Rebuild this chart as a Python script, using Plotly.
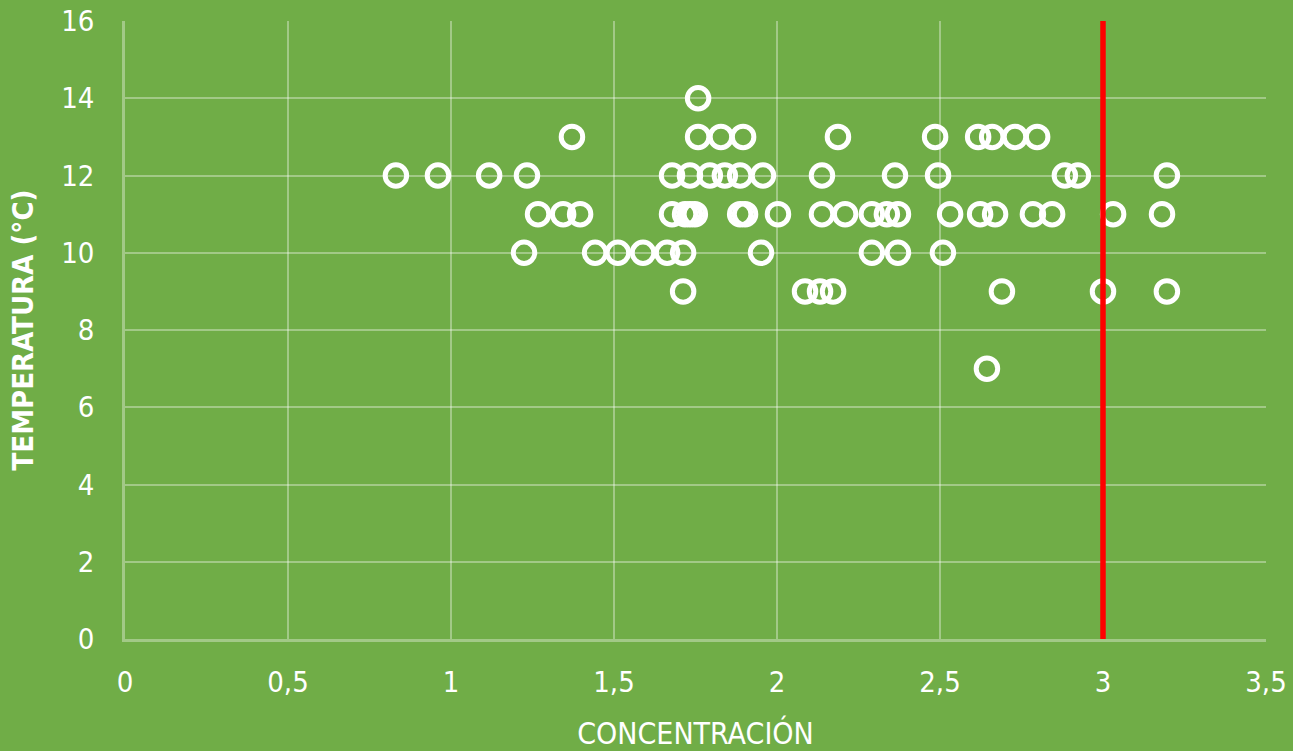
import plotly.graph_objects as go

# Data
concentracion = [
    1.758,
    1.371, 1.758, 1.828, 1.896, 2.187, 2.485, 2.617, 2.660, 2.730, 2.798,
    0.831, 0.960, 1.117, 1.233, 1.678, 1.733, 1.794, 1.840, 1.887, 1.957,
    2.138, 2.362, 2.494, 2.883, 2.923, 3.196,
    1.267, 1.344, 1.396, 1.678, 1.718, 1.733, 1.748, 1.887, 1.902, 2.003,
    2.138, 2.209, 2.291, 2.337, 2.371, 2.531, 2.623, 2.669, 2.785, 2.844,
    3.031, 3.181,
    1.224, 1.442, 1.512, 1.589, 1.663, 1.712, 1.951, 2.291, 2.371, 2.509,
    1.712, 2.086, 2.132, 2.172, 2.690, 3.000, 3.196,
    2.644,
]
temperatura = [
    14,
    13, 13, 13, 13, 13, 13, 13, 13, 13, 13,
    12, 12, 12, 12, 12, 12, 12, 12, 12, 12,
    12, 12, 12, 12, 12, 12,
    11, 11, 11, 11, 11, 11, 11, 11, 11, 11,
    11, 11, 11, 11, 11, 11, 11, 11, 11, 11,
    11, 11,
    10, 10, 10, 10, 10, 10, 10, 10, 10, 10,
    9, 9, 9, 9, 9, 9, 9,
    7,
]
limite_x = [3, 3]
limite_y = [0, 16]

x_ticks = [0, 0.5, 1, 1.5, 2, 2.5, 3, 3.5]
y_ticks = [0, 2, 4, 6, 8, 10, 12, 14, 16]

GREEN = "#70AD47"
GRID = "rgba(255,255,255,0.35)"
FONT = "Liberation Sans Narrow, Arial Narrow, DejaVu Sans Condensed, Lato, sans-serif"

fig = go.Figure()
fig.add_trace(go.Scatter(
    x=concentracion, y=temperatura, mode="markers",
    marker=dict(symbol="circle-open", size=21.5, color="white",
                line=dict(width=5, color="white")),
    showlegend=False, cliponaxis=False,
))
fig.add_trace(go.Scatter(
    x=limite_x, y=limite_y, mode="lines",
    line=dict(color="#FF0000", width=5.5), showlegend=False,
    cliponaxis=False,
))

fig.update_layout(
    width=1293, height=751,
    paper_bgcolor=GREEN, plot_bgcolor=GREEN,
    margin=dict(l=125, r=27, t=21, b=112),
    separators=", ",
    font=dict(family=FONT, color="white", size=29),
    xaxis=dict(
        range=[0, 3.5], tickvals=x_ticks, automargin=False,
        tickformat=".1~f",
        showgrid=True, gridcolor=GRID, gridwidth=2,
        showline=True, linecolor=GRID, linewidth=2.5,
        zeroline=False, ticks="", ticklabelstandoff=15,
        tickfont=dict(size=29, color="white", family=FONT),
        title=dict(text="CONCENTRACIÓN", standoff=28,
                   font=dict(size=30, color="white", family=FONT)),
    ),
    yaxis=dict(
        range=[0, 16], tickvals=y_ticks, automargin=False,
        showgrid=True, gridcolor=GRID, gridwidth=2,
        showline=True, linecolor=GRID, linewidth=2.5,
        zeroline=False, ticks="", ticklabelstandoff=22,
        tickfont=dict(size=29, color="white", family=FONT),
        title=dict(text="<b>TEMPERATURA (°C)</b>", standoff=20,
                   font=dict(size=29, color="white", family=FONT)),
    ),
)

fig.write_html(
    "out.html",
    config={"displayModeBar": False},
    post_script="document.body.style.margin='0';document.body.style.background='#70AD47';",
)
